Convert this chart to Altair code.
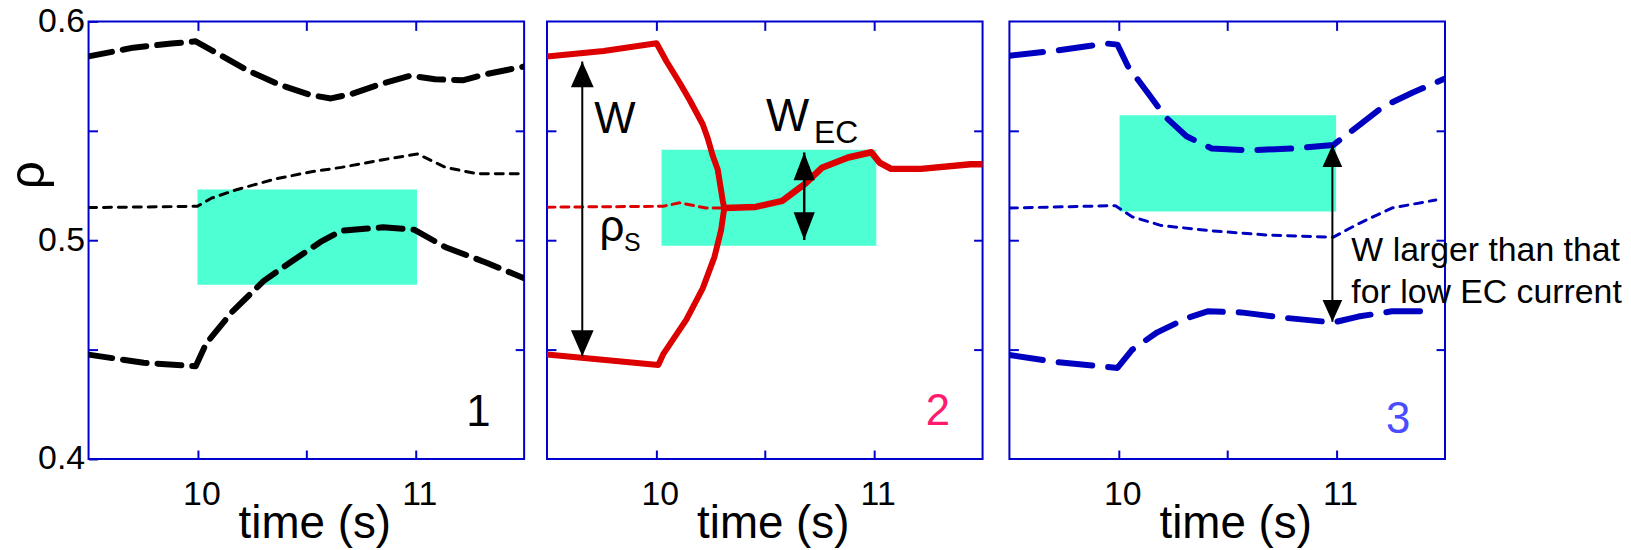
import altair as alt
import pandas as pd

FONT = "Liberation Sans, Arial, sans-serif"
BLUE = "#0000cc"
CYAN = "#4dffd3"
RED = "#dd0000"
DBLUE = "#0000c0"

T_DOMAIN = [9.5, 11.5]
RHO_DOMAIN = [0.4, 0.6]
X_TICKS = [10, 10.5, 11]
Y_TICKS = [0.45, 0.5, 0.55]
Y_LABEL_TICKS = [0.4, 0.45, 0.5, 0.55, 0.6]

# ---------------- Panel 1 (black) ----------------
p1_upper_t = [9.5, 9.705, 9.881, 9.992, 10.088, 10.231, 10.374, 10.518, 10.613, 10.709, 10.852, 10.979, 11.091, 11.218, 11.33, 11.5]
p1_upper_rho = [0.584, 0.588, 0.5899, 0.5909, 0.5856, 0.5776, 0.5712, 0.5664, 0.5648, 0.5669, 0.5717, 0.5752, 0.5736, 0.5731, 0.576, 0.5794]
p1_mid_t = [9.5, 10.0, 10.064, 10.183, 10.358, 10.518, 10.661, 10.852, 11.011, 11.139, 11.282, 11.5]
p1_mid_rho = [0.5149, 0.5155, 0.5192, 0.5232, 0.528, 0.5312, 0.5333, 0.5368, 0.5394, 0.5333, 0.5304, 0.5304]
p1_lower_t = [9.5, 9.753, 9.992, 10.04, 10.159, 10.303, 10.422, 10.565, 10.661, 10.852, 10.995, 11.139, 11.33, 11.5]
p1_lower_rho = [0.4477, 0.444, 0.4424, 0.4528, 0.4672, 0.4813, 0.4896, 0.4992, 0.5043, 0.5059, 0.5048, 0.4968, 0.4896, 0.4826]
p1_box = [10.0, 11.008, 0.4797, 0.5232]

# ---------------- Panel 2 (red) ----------------
p2_upper_t = [9.5, 9.76, 10.003, 10.049, 10.109, 10.155, 10.215, 10.238, 10.261, 10.284, 10.307, 10.314]
p2_upper_rho = [0.584, 0.5865, 0.590, 0.5817, 0.572, 0.5641, 0.553, 0.5466, 0.5386, 0.5323, 0.518, 0.5147]
p2_lower_t = [9.5, 10.011, 10.033, 10.14, 10.215, 10.269, 10.299, 10.314]
p2_lower_rho = [0.4478, 0.443, 0.4478, 0.4637, 0.478, 0.4924, 0.5044, 0.5147]
p2_mid_t = [10.314, 10.458, 10.58, 10.686, 10.762, 10.883, 10.989, 11.027, 11.08, 11.217, 11.445, 11.5]
p2_mid_rho = [0.5147, 0.5152, 0.518, 0.5259, 0.5331, 0.5378, 0.5402, 0.5355, 0.5326, 0.5326, 0.5347, 0.5347]
p2_pre_t = [9.5, 10.033, 10.109, 10.23, 10.314]
p2_pre_rho = [0.5151, 0.5155, 0.5171, 0.5147, 0.5147]
p2_box = [10.026, 11.012, 0.4975, 0.5414]

# ---------------- Panel 3 (blue) ----------------
p3_upper_t = [9.5, 9.717, 9.948, 9.996, 10.044, 10.14, 10.217, 10.313, 10.429, 10.602, 10.794, 10.987, 11.102, 11.217, 11.352, 11.5]
p3_upper_rho = [0.5843, 0.5867, 0.5899, 0.5894, 0.5795, 0.5667, 0.5563, 0.5475, 0.5419, 0.5411, 0.5419, 0.5435, 0.5523, 0.5611, 0.5675, 0.5739]
p3_mid_t = [9.5, 9.987, 10.063, 10.198, 10.429, 10.679, 10.987, 11.102, 11.256, 11.458]
p3_mid_rho = [0.5147, 0.5158, 0.5107, 0.5067, 0.5043, 0.5024, 0.5014, 0.5075, 0.5147, 0.5184]
p3_lower_t = [9.5, 9.717, 9.996, 10.063, 10.179, 10.313, 10.41, 10.563, 10.756, 10.987, 11.102, 11.256, 11.448]
p3_lower_rho = [0.4475, 0.4443, 0.4416, 0.4499, 0.4579, 0.4643, 0.4675, 0.467, 0.4646, 0.4624, 0.4651, 0.4675, 0.4675]
p3_box = [10.006, 11.0, 0.5131, 0.5571]

# annotations: arrows (t, rho_bottom, rho_top)
p2_arrow_w = [9.662, 0.447, 0.5817]
p2_arrow_wec = [10.681, 0.5001, 0.5401]
p3_arrow = [10.983, 0.4627, 0.5435]

# annotation texts: label, t, rho, size, colour
p1_texts = [("1", 11.29, 0.4208, 44, "#000000")]
p2_texts = [("W", 9.812, 0.5548, 44, "#000000"),
            ("ρ", 9.798, 0.5056, 44, "#000000"),
            ("S", 9.892, 0.4986, 25, "#000000"),
            ("W", 10.605, 0.5562, 46, "#000000"),
            ("EC", 10.828, 0.5491, 32, "#000000"),
            ("2", 11.295, 0.4215, 44, "#ff1a6e")]
p3_texts = [("3", 11.285, 0.4179, 44, "#4b4bff")]
p3_note_lines = ["W larger than that", "for low EC current"]
p3_note_t = 11.07
p3_note_rho = [0.4905, 0.4715]

W, H = 438, 440
LABEL_SIZE = 34
TITLE_SIZE = 46
xs = alt.Scale(domain=T_DOMAIN, nice=False, zero=False)
ys = alt.Scale(domain=RHO_DOMAIN, nice=False, zero=False)

UP = "M0,0L-0.44,1L0.44,1Z"
DOWN = "M0,0L-0.44,-1L0.44,-1Z"
UP2 = "M0,0L-0.38,1L0.38,1Z"
DOWN2 = "M0,0L-0.38,-1L0.38,-1Z"


def bottom_axis():
    return alt.Axis(orient="bottom", values=X_TICKS,
                    labelExpr="datum.value == 10.5 ? '' : format(datum.value, 'd')",
                    offset=-9, tickSize=9, labelPadding=19, labelFlush=False, labelOffset=4,
                    labelFontSize=LABEL_SIZE, title="time (s)", titleFontSize=TITLE_SIZE,
                    titleFontWeight="normal", titleBaseline="alphabetic",
                    titleX=227, titleY=88)


def top_axis():
    return alt.Axis(orient="top", values=X_TICKS, labels=False, offset=-9,
                    tickSize=9, title=None)


def left_axis(labels):
    if labels:
        return alt.Axis(orient="left", values=Y_LABEL_TICKS,
                        labelExpr="(round(datum.value*100) % 10 == 0) ? format(datum.value, '.1f') : ''",
                        offset=-9, tickSize=9, labelPadding=4, labelFlush=False,
                        labelFontSize=LABEL_SIZE, title="ρ", titleFontSize=50,
                        titleFontWeight="normal", titleBaseline="alphabetic",
                        titleX=-54, titleY=154)
    return alt.Axis(orient="left", values=Y_TICKS, labels=False, offset=-9,
                    tickSize=9, title=None)


def right_axis():
    return alt.Axis(orient="right", values=Y_TICKS, labels=False, offset=-9,
                    tickSize=9, title=None)


def box_layer(box, labels):
    df = pd.DataFrame({"t0": [box[0]], "t1": [box[1]], "r0": [box[2]], "r1": [box[3]]})
    return alt.Chart(df).mark_rect(color=CYAN).encode(
        x=alt.X("t0:Q", scale=xs, axis=bottom_axis()),
        x2="t1:Q",
        y=alt.Y("r0:Q", scale=ys, axis=left_axis(labels)),
        y2="r1:Q",
    )


def line_layer(ts, rs, color, width, dash=None, axes=False):
    df = pd.DataFrame({"t": ts, "rho": rs, "i": list(range(len(ts)))})
    kw = dict(color=color, strokeWidth=width, strokeCap="round", strokeJoin="round", clip=True)
    if dash:
        kw["strokeDash"] = dash
    if axes:
        x = alt.X("t:Q", scale=xs, axis=top_axis())
        y = alt.Y("rho:Q", scale=ys, axis=right_axis())
    else:
        x = alt.X("t:Q", scale=xs, axis=None)
        y = alt.Y("rho:Q", scale=ys, axis=None)
    return alt.Chart(df).mark_line(**kw).encode(x=x, y=y, order="i:Q")


def arrow_layers(arrow, size, up, down, width):
    t, r0, r1 = arrow
    df = pd.DataFrame({"t": [t], "r0": [r0], "r1": [r1]})
    rule = alt.Chart(df).mark_rule(color="black", strokeWidth=width).encode(
        x=alt.X("t:Q", scale=xs, axis=None),
        y=alt.Y("r0:Q", scale=ys, axis=None), y2="r1:Q")
    top = alt.Chart(df).mark_point(shape=up, size=size, filled=True, color="black", opacity=1).encode(
        x=alt.X("t:Q", scale=xs, axis=None), y=alt.Y("r1:Q", scale=ys, axis=None))
    bot = alt.Chart(df).mark_point(shape=down, size=size, filled=True, color="black", opacity=1).encode(
        x=alt.X("t:Q", scale=xs, axis=None), y=alt.Y("r0:Q", scale=ys, axis=None))
    return [rule, top, bot]


def text_layers(items):
    out = []
    for label, t, r, size, color in items:
        df = pd.DataFrame({"t": [t], "rho": [r], "label": [label]})
        out.append(alt.Chart(df).mark_text(font=FONT, fontSize=size, color=color,
                                           align="center", baseline="middle").encode(
            x=alt.X("t:Q", scale=xs, axis=None),
            y=alt.Y("rho:Q", scale=ys, axis=None), text="label:N"))
    return out


# Panel 1
panel1 = alt.layer(
    box_layer(p1_box, True),
    line_layer(p1_upper_t, p1_upper_rho, "black", 6, [24, 11], axes=True),
    line_layer(p1_mid_t, p1_mid_rho, "black", 3, [8, 7]),
    line_layer(p1_lower_t, p1_lower_rho, "black", 6, [24, 11]),
    *text_layers(p1_texts),
).resolve_axis(x="independent", y="independent").properties(width=W, height=H)

# Panel 2
panel2 = alt.layer(
    box_layer(p2_box, False),
    line_layer(p2_pre_t, p2_pre_rho, RED, 3, [8, 6], axes=True),
    line_layer(p2_upper_t, p2_upper_rho, RED, 6),
    line_layer(p2_lower_t, p2_lower_rho, RED, 6),
    line_layer(p2_mid_t, p2_mid_rho, RED, 6.5),
    *arrow_layers(p2_arrow_w, 2704, UP, DOWN, 2),
    *arrow_layers(p2_arrow_wec, 3136, UP2, DOWN2, 2.5),
    *text_layers(p2_texts),
).resolve_axis(x="independent", y="independent").properties(width=W, height=H)

# Panel 3
note_df = pd.DataFrame({"t": [p3_note_t] * 2, "rho": p3_note_rho, "label": p3_note_lines})
note = alt.Chart(note_df).mark_text(font=FONT, fontSize=34, color="black", align="left",
                                    baseline="alphabetic").encode(
    x=alt.X("t:Q", scale=xs, axis=None), y=alt.Y("rho:Q", scale=ys, axis=None), text="label:N")

panel3 = alt.layer(
    box_layer(p3_box, False),
    line_layer(p3_mid_t, p3_mid_rho, DBLUE, 3, [8, 7], axes=True),
    line_layer(p3_upper_t, p3_upper_rho, DBLUE, 6, [34, 16]),
    line_layer(p3_lower_t, p3_lower_rho, DBLUE, 6, [34, 16]),
    *arrow_layers(p3_arrow, 1936, "M0,0L-0.45,1L0.45,1Z", "M0,0L-0.45,-1L0.45,-1Z", 2),
    *text_layers(p3_texts),
    note,
).resolve_axis(x="independent", y="independent").properties(width=W, height=H)

chart = alt.hconcat(
    panel1,
    alt.hconcat(panel2, panel3, spacing=23),
    spacing=19,
).properties(
    padding={"left": -5, "top": -6, "right": 0, "bottom": 0}
).configure_view(
    stroke=BLUE, strokeWidth=2
).configure_axis(
    labelFont=FONT, titleFont=FONT, domain=False, grid=False, labelFontSize=LABEL_SIZE,
    tickColor=BLUE, tickWidth=2, labelColor="black", titleColor="black"
)

chart.save("out.html", embed_options={"renderer": "svg", "actions": False})
